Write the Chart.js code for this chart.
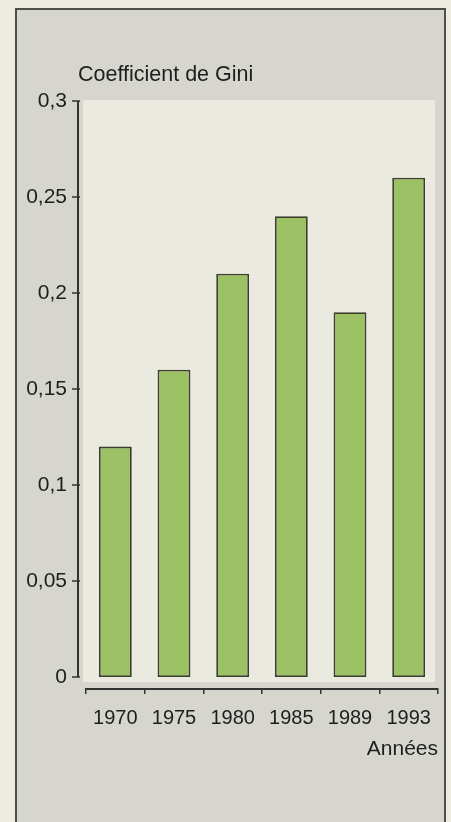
<!DOCTYPE html>
<html lang="fr">
<head>
<meta charset="utf-8">
<title>Coefficient de Gini</title>
<script src="https://cdn.jsdelivr.net/npm/chart.js@4.4.1/dist/chart.umd.min.js"></script>
<style>
  html, body { margin: 0; padding: 0; background: #eeece2; }
  #wrap { position: relative; width: 451px; height: 822px; }
</style>
</head>
<body>
<div id="wrap"><canvas id="gini"></canvas></div>
<script>
// Inégalités de revenu : coefficient de Gini par année
const years = ['1970', '1975', '1980', '1985', '1989', '1993'];
const giniValues = [0.12, 0.16, 0.21, 0.24, 0.19, 0.26];
const yTickValues = [0, 0.05, 0.1, 0.15, 0.2, 0.25, 0.3];
const yTickLabels = ['0', '0,05', '0,1', '0,15', '0,2', '0,25', '0,3'];
const yAxisTitle = 'Coefficient de Gini';
const xAxisTitle = 'Années';

const FONT = '"Liberation Sans", Arial, Helvetica, sans-serif';
const INK = '#1e1e1e';

// Page, encadré gris et panneau clair derrière le graphique
const backdrop = {
  id: 'backdrop',
  beforeDraw(chart) {
    const { ctx, width, height } = chart;
    ctx.save();
    ctx.fillStyle = '#eeece2';
    ctx.fillRect(0, 0, width, height);
    ctx.fillStyle = '#d6d6cf';
    ctx.fillRect(16, 9, 429, height);
    ctx.strokeStyle = '#4e4e4c';
    ctx.lineWidth = 2;
    ctx.strokeRect(16, 9, 429, height + 10);
    ctx.fillStyle = '#ebeae1';
    ctx.fillRect(83, 100, 352, 582);
    ctx.restore();
  }
};

// Axe vertical (de 0 à 0,3) avec ses graduations, et titre de l'axe
const valueAxis = {
  id: 'valueAxis',
  afterDraw(chart) {
    const { ctx } = chart;
    const y = chart.scales.y;
    const axisX = chart.chartArea.left - 8;
    ctx.save();
    ctx.strokeStyle = '#333333';
    ctx.lineWidth = 2;
    ctx.beginPath();
    ctx.moveTo(axisX, y.getPixelForValue(yTickValues[yTickValues.length - 1]));
    ctx.lineTo(axisX, y.getPixelForValue(0));
    ctx.stroke();
    ctx.lineWidth = 1.5;
    yTickValues.forEach(v => {
      const py = y.getPixelForValue(v);
      ctx.beginPath();
      ctx.moveTo(axisX - 6, py);
      ctx.lineTo(axisX + 2, py);
      ctx.stroke();
    });
    ctx.fillStyle = INK;
    ctx.font = '21.5px ' + FONT;
    ctx.textAlign = 'left';
    ctx.textBaseline = 'middle';
    ctx.fillText(yAxisTitle, axisX, 75);
    ctx.restore();
  }
};

new Chart(document.getElementById('gini'), {
  type: 'bar',
  data: {
    labels: years,
    datasets: [{
      data: giniValues,
      backgroundColor: '#9cc164',
      borderColor: '#3a3e2b',
      borderWidth: 1.8,
      borderSkipped: false,
      categoryPercentage: 1,
      barPercentage: 0.56
    }]
  },
  options: {
    responsive: true,
    maintainAspectRatio: false,
    animation: false,
    layout: { padding: { top: 101, right: 13, bottom: 0, left: 0 } },
    plugins: {
      legend: { display: false },
      tooltip: { enabled: false }
    },
    scales: {
      x: {
        offset: true,
        grid: {
          offset: true,
          drawOnChartArea: false,
          drawTicks: true,
          tickLength: 5,
          color: '#333333',
          lineWidth: 1.5
        },
        border: { display: true, color: '#333333', width: 2 },
        ticks: {
          color: INK,
          font: { family: FONT, size: 20 },
          padding: 12,
          maxRotation: 0,
          autoSkip: false
        },
        title: {
          display: true,
          text: xAxisTitle,
          align: 'end',
          color: INK,
          font: { family: FONT, size: 21 },
          padding: { top: 0, bottom: 60 }
        },
        afterFit(scale) { scale.height = 133; }
      },
      y: {
        min: -0.00625,
        max: 0.3,
        grid: { display: false },
        border: { display: false },
        afterBuildTicks(scale) {
          scale.ticks = yTickValues.map(v => ({ value: v }));
        },
        ticks: {
          color: INK,
          font: { family: FONT, size: 21 },
          padding: 11,
          callback(value, index) { return yTickLabels[index]; }
        },
        afterFit(scale) { scale.width = 86; }
      }
    }
  },
  plugins: [backdrop, valueAxis]
});
</script>
</body>
</html>
